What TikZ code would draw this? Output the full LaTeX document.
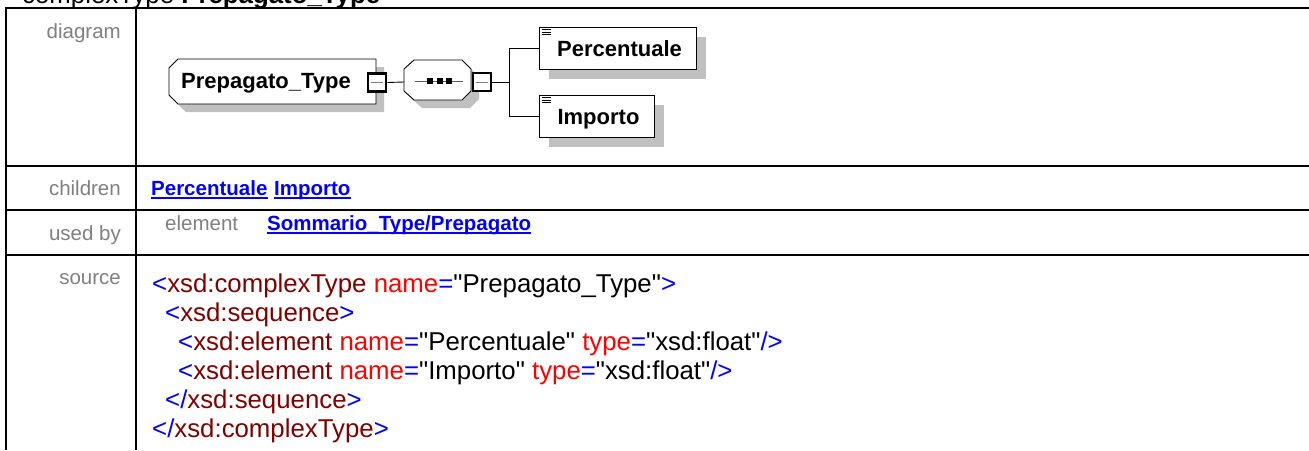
\documentclass[tikz,border=0pt]{standalone}
\usepackage{fontspec}
\setmainfont{Liberation Sans}
\newfontfamily\codefont{Liberation Sans}
\definecolor{lblgray}{RGB}{128,128,128}
\definecolor{lnkblue}{RGB}{0,0,255}
\definecolor{xmaroon}{RGB}{128,0,0}
\definecolor{xred}{RGB}{255,0,0}
\definecolor{shadowgray}{RGB}{192,192,192}
\newcommand{\xmlB}[1]{\textcolor{lnkblue}{#1}}
\newcommand{\xmlM}[1]{\textcolor{xmaroon}{#1}}
\newcommand{\xmlR}[1]{\textcolor{xred}{#1}}
\tikzset{
  tbl/.style={line width=2.2pt, black},
  rowlabel/.style={anchor=base east, inner sep=0pt, text=lblgray, font=\fontsize{20.5}{24}\selectfont},
  codeline/.style={anchor=base west, inner sep=0pt, font=\codefont\fontsize{25.8}{29}\selectfont},
  linktext/.style={anchor=base west, inner sep=0pt, text=lnkblue, font=\fontsize{20.5}{24}\selectfont\bfseries},
  uline/.style={line width=2.2pt, lnkblue},
  shapeline/.style={draw=black, line width=0.9pt, fill=white},
  minusbox/.style={draw=black, line width=2.6pt, fill=white, minimum width=18pt, minimum height=18pt, inner sep=0pt},
  elembox/.style={draw=black, line width=0.9pt, fill=white, inner sep=0pt, minimum height=42pt, text height=16pt, text depth=0pt, font=\fontsize{22}{26}\selectfont\bfseries},
  conn/.style={line width=0.9pt, black},
}
\begin{document}
\begin{tikzpicture}[x=1pt, y=-1pt]
\useasboundingbox (0,0) rectangle (1309,450);
% clipped title
\node[anchor=base west, inner sep=0pt, font=\fontsize{25.8}{30}\selectfont] (title) at (22,3) {complexType \textbf{Prepagato\_Type}};
% table
\draw[tbl] (6,8) -- (1309,8);
\draw[tbl] (6,166) -- (1309,166);
\draw[tbl] (6,210) -- (1309,210);
\draw[tbl] (6,255) -- (1309,255);
\draw[tbl] (6,7) -- (6,450);
\draw[tbl] (136,7) -- (136,450);
% row labels
\node[rowlabel] (ldiag) at (121,38) {diagram};
\node[rowlabel] (lchild) at (121,195) {children};
\node[rowlabel] (lused) at (121,240) {used by};
\node[rowlabel] (lsrc) at (121,284) {source};
% children
\node[linktext] (cP) at (151,195) {Percentuale};
\node[linktext] (cI) at (274,195) {Importo};
\draw[uline] ([yshift=-3pt]cP.base west) -- ([yshift=-3pt]cP.base east);
\draw[uline] ([yshift=-3pt]cI.base west) -- ([yshift=-3pt]cI.base east);
% used by
\node[anchor=base west, inner sep=0pt, text=lblgray, font=\fontsize{20.5}{24}\selectfont] (uel) at (165,230) {element};
\node[linktext] (uSP) at (267,230) {Sommario\_Type/Prepagato};
\draw[uline] ([yshift=-3pt]uSP.base west) -- ([yshift=-3pt]uSP.base east);
% source code
\node[codeline] (s1) at (152,292) {\xmlB{<}\xmlM{xsd:complexType} \xmlR{name}\xmlB{=}"Prepagato\_Type"\xmlB{>}};
\node[codeline] (s2) at (165,321) {\xmlB{<}\xmlM{xsd:sequence}\xmlB{>}};
\node[codeline] (s3) at (178,350) {\xmlB{<}\xmlM{xsd:element} \xmlR{name}\xmlB{=}"Percentuale" \xmlR{type}\xmlB{=}"xsd:float"\xmlB{/>}};
\node[codeline] (s4) at (178,379) {\xmlB{<}\xmlM{xsd:element} \xmlR{name}\xmlB{=}"Importo" \xmlR{type}\xmlB{=}"xsd:float"\xmlB{/>}};
\node[codeline] (s5) at (165,408) {\xmlB{</}\xmlM{xsd:sequence}\xmlB{>}};
\node[codeline] (s6) at (152,437) {\xmlB{</}\xmlM{xsd:complexType}\xmlB{>}};
% ---------- diagram ----------
% Prepagato_Type complex type box
\fill[shadowgray] (177,77) -- (186,67) -- (384,67) -- (384,112) -- (186,112) -- (177,103) -- cycle;
\draw[shapeline] (169,68) -- (178,59) -- (376,59) -- (376,104) -- (178,104) -- (169,95) -- cycle;
\node[anchor=base west, inner sep=0pt, font=\fontsize{22}{26}\selectfont\bfseries] (ptype) at (181,88) {Prepagato\_Type};
\node[minusbox] (m1) at (377,82.5) {};
\draw[gray, line width=0.9pt] ([xshift=4pt]m1.west) -- ([xshift=-4pt]m1.east);
% sequence compositor
\fill[shadowgray] (412,77) -- (422,68) -- (470,68) -- (479,77) -- (479,99) -- (470,108) -- (422,108) -- (412,99) -- cycle;
\draw[shapeline] (404,69) -- (414,60) -- (462,60) -- (471,69) -- (471,91) -- (462,100) -- (414,100) -- (404,91) -- cycle;
\coordinate (seqW) at (404,82);
\draw[conn, gray!70!black] (415,81) -- (463,81);
\fill[black] (427,78) rectangle (433,84);
\fill[black] (437,78) rectangle (443,84);
\fill[black] (446,78) rectangle (452,84);
\node[minusbox] (m2) at (482,82) {};
\draw[gray, line width=0.9pt] ([xshift=4pt]m2.west) -- ([xshift=-4pt]m2.east);
\draw[conn] (m1.east) -- (seqW);
% elements
\fill[shadowgray] (549,37) rectangle (706,79);
\fill[shadowgray] (549,105) rectangle (664,147);
\node[elembox, minimum width=157pt] (pc) at (617.5,48) {\hspace*{4pt}Percentuale};
\node[elembox, minimum width=115pt] (im) at (596.5,116) {\hspace*{4pt}Importo};
\foreach \n in {pc,im}{
  \draw[line width=0.7pt] ([xshift=3pt,yshift=-3pt]\n.north west) -- ++(9,0);
  \draw[line width=0.7pt] ([xshift=3pt,yshift=-5.5pt]\n.north west) -- ++(9,0);
  \draw[line width=0.7pt] ([xshift=3pt,yshift=-8pt]\n.north west) -- ++(9,0);
}
\coordinate (fork) at (509.5,82);
\draw[conn] (m2.east) -- (fork);
\draw[conn] (pc.west) -| (fork);
\draw[conn] (im.west) -| (fork);
\end{tikzpicture}
\end{document}
